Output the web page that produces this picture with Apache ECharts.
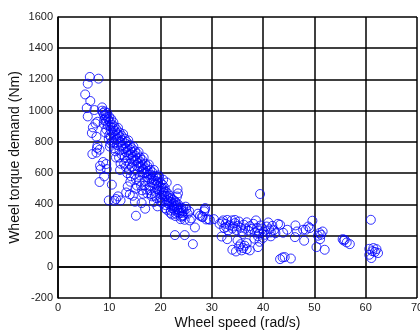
<!DOCTYPE html>
<html lang="en">
<head>
<meta charset="utf-8">
<title>Wheel torque vs speed</title>
<script src="https://cdn.jsdelivr.net/npm/echarts@6/dist/echarts.min.js"></script>
<style>
  html, body { margin: 0; padding: 0; background: #fff; }
  #main { width: 420px; height: 331px; }
</style>
</head>
<body>
<div id="main"></div>
<script type="text/javascript">
// axis ticks
var xTicks = [0, 10, 20, 30, 40, 50, 60, 70];
var yTicks = [-200, 0, 200, 400, 600, 800, 1000, 1200, 1400, 1600];

// low speed, scattered points left of the main band
var lowSpeed = [
    [6.2, 1216], [7.9, 1205], [5.8, 1173], [5.3, 1104], [6.3, 1062], [5.6, 1017],
    [7.1, 1004], [5.8, 963], [8.6, 1021], [7.3, 918], [7.7, 929], [6.8, 893],
    [6.6, 857], [7.5, 833], [7.7, 778], [7.6, 761], [6.7, 722], [7.5, 731],
    [8.1, 750], [8.8, 671], [8.2, 647], [9.4, 658], [8.1, 543], [8.3, 624],
    [9.0, 579], [9.5, 626], [10.5, 526], [9.9, 425], [11.0, 423], [11.7, 451],
    [12.2, 425], [11.3, 434], [13.3, 476], [13.6, 515], [14.0, 464], [14.6, 455],
    [15.0, 417], [15.2, 327], [16.6, 468], [16.3, 408], [17.0, 372], [18.3, 451],
    [18.7, 415], [19.4, 387], [19.6, 585], [20.5, 558], [21.2, 540]
];

// dense main band
var band = [
    [8.6, 1000], [8.8, 985], [9.0, 970], [9.1, 995], [9.2, 950], [9.3, 975], [9.4, 930], [9.5, 960],
    [9.0, 940], [8.9, 915], [9.6, 985], [9.7, 905], [9.4, 880], [9.2, 860], [9.8, 945],
    [10.0, 960], [10.1, 930], [10.2, 900], [10.3, 875], [10.4, 945], [10.0, 845], [9.9, 820], [10.2, 790],
    [10.5, 910], [10.6, 860], [10.3, 830], [10.1, 770], [10.7, 890], [10.8, 925], [10.5, 800],
    [11.0, 900], [11.1, 870], [11.2, 840], [11.3, 815], [11.4, 880], [11.5, 855], [11.0, 795], [10.9, 760],
    [11.2, 740], [11.6, 820], [11.7, 890], [11.3, 700], [11.8, 845], [11.5, 780],
    [12.0, 860], [12.1, 830], [12.2, 800], [12.3, 770], [12.4, 840], [12.5, 810], [12.0, 745], [11.9, 700],
    [12.2, 660], [12.6, 780], [12.7, 850], [12.4, 720], [12.8, 755], [12.1, 620],
    [13.0, 820], [13.1, 790], [13.2, 760], [13.3, 735], [13.4, 800], [13.5, 770], [13.0, 700], [12.9, 660],
    [13.6, 745], [13.7, 810], [13.3, 680], [13.8, 715], [13.2, 640], [13.5, 600],
    [14.0, 780], [14.1, 750], [14.2, 720], [14.3, 690], [14.4, 760], [14.5, 735], [14.0, 660], [13.9, 620],
    [14.6, 705], [14.7, 770], [14.2, 580], [14.8, 680], [14.4, 640], [14.1, 545],
    [15.0, 740], [15.1, 710], [15.2, 680], [15.3, 650], [15.4, 725], [15.5, 695], [15.0, 620], [14.9, 590],
    [15.6, 665], [15.7, 735], [15.2, 560], [15.8, 640], [15.4, 520], [15.1, 500],
    [16.0, 700], [16.1, 670], [16.2, 640], [16.3, 610], [16.4, 685], [16.5, 655], [16.0, 585], [15.9, 550],
    [16.6, 625], [16.7, 700], [16.2, 520], [16.8, 600], [16.4, 490],
    [17.0, 660], [17.1, 630], [17.2, 600], [17.3, 575], [17.4, 645], [17.5, 615], [17.0, 550], [16.9, 520],
    [17.6, 590], [17.7, 655], [17.2, 495], [17.8, 560], [17.4, 470],
    [18.0, 620], [18.1, 590], [18.2, 565], [18.3, 540], [18.4, 605], [18.5, 580], [18.0, 515], [17.9, 490],
    [18.6, 555], [18.7, 620], [18.2, 465], [18.8, 530],
    [19.0, 580], [19.1, 550], [19.2, 525], [19.3, 500], [19.4, 565], [19.5, 540], [19.0, 480], [18.9, 455],
    [19.6, 515], [19.7, 575], [19.2, 440], [19.8, 490],
    [20.0, 540], [20.1, 510], [20.2, 485], [20.3, 460], [20.4, 525], [20.5, 500], [20.0, 445], [19.9, 420],
    [20.6, 475], [20.7, 455], [20.2, 410], [20.8, 505],
    [21.0, 480], [21.1, 455], [21.2, 430], [21.3, 410], [21.4, 470], [21.5, 445], [21.0, 395], [20.9, 375],
    [21.6, 420], [21.7, 400], [21.2, 365], [21.8, 455],
    [22.0, 440], [22.1, 415], [22.2, 395], [22.3, 375], [22.4, 430], [22.5, 405], [22.0, 360], [21.9, 345],
    [22.6, 385], [22.7, 365], [22.2, 335], [22.8, 420],
    [23.0, 410], [23.1, 390], [23.2, 370], [23.3, 350], [23.4, 400], [23.5, 380], [23.0, 340], [22.9, 325],
    [23.6, 360], [23.7, 345], [23.2, 450], [23.4, 470], [23.3, 498],
    [24.0, 380], [24.1, 360], [24.2, 345], [24.3, 330], [24.4, 375], [24.5, 355], [24.0, 320], [23.9, 305]
];

// transition 24 - 31 rad/s
var transition = [
    [22.8, 203], [24.7, 203], [26.3, 145], [26.7, 252], [24.7, 301], [25.7, 297], [24.3, 323],
    [25.0, 370], [25.6, 355], [24.9, 385], [25.3, 340], [26.0, 310], [27.3, 340], [27.7, 327],
    [28.5, 355], [28.7, 376], [29.3, 305], [28.2, 318], [28.6, 365], [28.1, 322], [28.9, 303],
    [29.6, 301], [30.4, 305]
];

// middle cluster 31 - 53 rad/s
var midSpeed = [
    [31.9, 194], [32.2, 297], [32.4, 248], [32.7, 275], [33.0, 177], [33.2, 233], [33.9, 297], [34.2, 258],
    [33.5, 265], [34.0, 245], [34.5, 280], [34.8, 235], [35.0, 262], [35.3, 290], [35.6, 250], [35.9, 228],
    [36.2, 270], [36.5, 245], [36.8, 285], [37.1, 232], [37.4, 260], [37.8, 242], [38.1, 275], [38.6, 297],
    [38.4, 220], [38.8, 250], [39.0, 232], [39.2, 212], [39.5, 265], [39.8, 245], [40.1, 225], [40.4, 205],
    [40.7, 258], [41.0, 284], [41.2, 240], [41.5, 220], [41.8, 262], [42.1, 235], [42.4, 215], [42.9, 275],
    [39.0, 195], [40.0, 185], [41.5, 195], [38.3, 180], [39.3, 160], [36.0, 210], [35.0, 169],
    [34.0, 109], [34.7, 98], [35.3, 130], [35.8, 105], [36.1, 120], [36.8, 113], [37.4, 105], [36.8, 152],
    [36.4, 135], [35.6, 145], [39.0, 126], [39.4, 466],
    [32.0, 285], [33.0, 300], [34.5, 300], [31.5, 275], [32.8, 255],
    [43.3, 49], [43.8, 60], [44.2, 62], [45.4, 53],
    [43.3, 269], [43.9, 218], [44.7, 237], [46.3, 265], [46.6, 226], [46.2, 190], [47.8, 237], [48.0, 167],
    [48.3, 237], [48.8, 258], [49.1, 248], [49.6, 295], [50.4, 126], [50.7, 199], [51.1, 177], [51.6, 226],
    [51.3, 205], [52.0, 109], [51.0, 216]
];

// high speed points
var highSpeed = [
    [55.5, 177], [55.9, 173], [56.3, 156], [56.9, 145], [55.7, 168],
    [61.0, 301], [60.7, 115], [61.5, 120], [62.1, 113], [60.7, 77], [61.1, 56], [62.4, 88],
    [61.3, 100], [61.8, 95]
];

var points = lowSpeed.concat(band, transition, midSpeed, highSpeed);

var chart = echarts.init(document.getElementById('main'));

var labelFont = { color: '#222', fontSize: 11, fontFamily: 'Liberation Sans' };
var gridLine = { show: true, lineStyle: { color: '#000', width: 1.5 } };
var plain = function (v) { return String(v); };

var option = {
    animation: false,
    grid: { left: 58, right: 3, top: 17, bottom: 33, containLabel: false, outerBoundsMode: 'none' },
    xAxis: {
        type: 'value',
        min: xTicks[0],
        max: xTicks[xTicks.length - 1],
        interval: 10,
        name: 'Wheel speed (rad/s)',
        nameLocation: 'middle',
        nameGap: 18,
        nameMoveOverlap: false,
        nameTextStyle: { color: '#111', fontSize: 14, fontFamily: 'Liberation Sans' },
        axisLine: { lineStyle: { color: '#000', width: 1.5 } },
        axisTick: { show: false },
        axisLabel: Object.assign({ margin: 4, formatter: plain, hideOverlap: false }, labelFont),
        splitLine: gridLine
    },
    yAxis: {
        type: 'value',
        min: yTicks[0],
        max: yTicks[yTicks.length - 1],
        interval: 200,
        name: 'Wheel torque demand (Nm)',
        nameLocation: 'middle',
        nameGap: 36,
        nameMoveOverlap: false,
        nameTextStyle: { color: '#111', fontSize: 14, fontFamily: 'Liberation Sans' },
        axisLine: { show: true, lineStyle: { color: '#000', width: 1.5 } },
        axisTick: { show: false },
        axisLabel: Object.assign({ margin: 5, formatter: plain }, labelFont),
        splitLine: gridLine
    },
    series: [{
        type: 'scatter',
        data: points,
        symbol: 'circle',
        symbolSize: 9,
        itemStyle: {
            color: 'rgba(0,0,0,0)',
            borderColor: '#0000ff',
            borderWidth: 1
        }
    }]
};

chart.setOption(option);
</script>
</body>
</html>
